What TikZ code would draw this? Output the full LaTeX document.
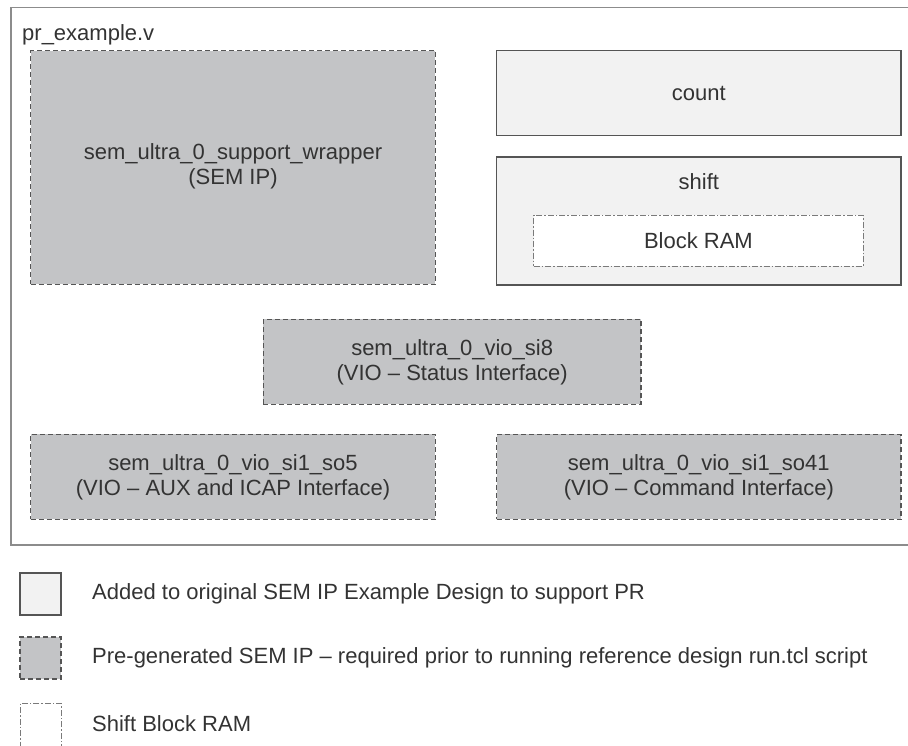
\documentclass[tikz,border=0pt]{standalone}
\usepackage{fontspec}
\setmainfont{Liberation Sans}
\definecolor{semfill}{HTML}{C3C4C6}
\definecolor{addfill}{HTML}{F2F2F2}
\definecolor{edge}{HTML}{555555}
\definecolor{outeredge}{HTML}{8C8C8C}
\definecolor{txt}{HTML}{333333}
\definecolor{bramedge}{HTML}{7A7A7A}
\tikzset{
  every node/.style={text=txt, font=\fontsize{22}{25}\selectfont, inner sep=0pt, align=center},
  sembox/.style={draw=edge, fill=semfill, line width=1.1pt, dash pattern=on 5pt off 3pt, rectangle},
  addbox/.style={draw=edge, fill=addfill, line width=1.3pt, rectangle},
  brambox/.style={draw=bramedge, fill=white, line width=1pt, dash pattern=on 6pt off 2pt on 1.5pt off 2pt, rectangle},
  outerframe/.style={draw=outeredge, line width=1.6pt},
  legtext/.style={anchor=west}
}
\begin{document}
\begin{tikzpicture}[x=1pt,y=-1pt]
\useasboundingbox (0,0) rectangle (908,745);
\clip (0,0) rectangle (908,745);
% outer frame
\draw[outerframe] (912,7.3) -- (10.7,7.3) -- (10.7,545) -- (912,545);
\node[anchor=base west] (title) at (22,40) {pr\_example.v};
% SEM wrapper
\node[sembox, minimum width=404.6pt, minimum height=233.6pt] (wrap) at (233,167.5) {};
\node (wraptxt) at (233,166.5) {sem\_ultra\_0\_support\_wrapper\\(SEM IP)};
% count
\node[addbox, minimum width=404.3pt, minimum height=85pt] (count) at (698.85,93.2) {count};
% shift
\node[addbox, minimum width=404.3pt, minimum height=128pt] (shift) at (698.85,221) {};
\node (shifttxt) at (698.85,182) {shift};
\node[brambox, minimum width=329.8pt, minimum height=50.7pt] (bram) at (698.4,240.65) {Block RAM};
% VIO status
\node[sembox, minimum width=377.7pt, minimum height=85pt] (si8) at (452.15,361.8) {sem\_ultra\_0\_vio\_si8\\(VIO -- Status Interface)};
% VIO aux
\node[sembox, minimum width=404.6pt, minimum height=85pt] (so5) at (233,476.8) {sem\_ultra\_0\_vio\_si1\_so5\\(VIO -- AUX and ICAP Interface)};
% VIO command
\node[sembox, minimum width=404.3pt, minimum height=85pt] (so41) at (698.85,476.8) {sem\_ultra\_0\_vio\_si1\_so41\\(VIO -- Command Interface)};
% legend
\node[addbox, minimum width=41pt, minimum height=42pt] (leg1) at (40.5,594) {};
\node[legtext] (leg1t) at (92,594) {Added to original SEM IP Example Design to support PR};
\node[sembox, minimum width=41pt, minimum height=42pt] (leg2) at (40.5,658) {};
\node[legtext] (leg2t) at (92,658) {Pre-generated SEM IP -- required prior to running reference design run.tcl script};
\node[brambox, minimum width=41pt, minimum height=52pt] (leg3) at (40.5,729) {};
\node[legtext] (leg3t) at (92,724) {Shift Block RAM};
\end{tikzpicture}
\end{document}
